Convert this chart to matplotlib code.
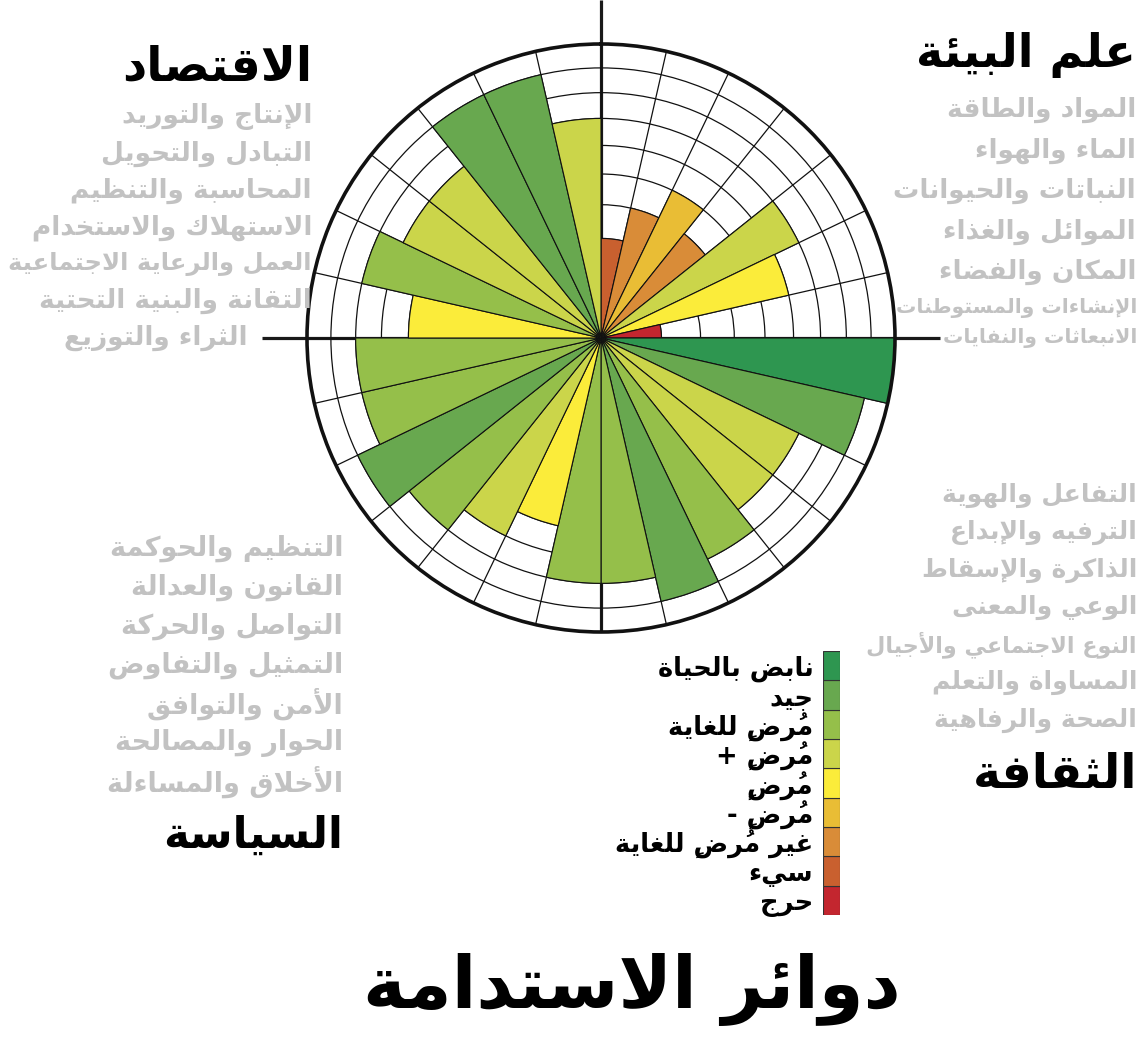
import numpy as np
import matplotlib
matplotlib.use("Agg")
import matplotlib.pyplot as plt

plt.rcParams['font.family'] = ['DejaVu Sans']

# --- minimal arabic shaping (presentation forms + visual order) ---
LETTERS = "ءآأؤإئابةتثجحخدذرزسشصضطظعغفقكلمنهوىي"
COUNTS = [1, 2, 2, 2, 2, 4, 2, 4, 2, 4, 4, 4, 4, 4, 2, 2, 2, 2,
          4, 4, 4, 4, 4, 4, 4, 4, 4, 4, 4, 4, 4, 4, 4, 2, 2, 4]
FORMS = {}
start = 0xFE80
for ch, n in zip(LETTERS, COUNTS):
    FORMS[ch] = (start, n)
    start += n
LAM_ALEF = {"آ": 0xFEF5, "أ": 0xFEF7, "إ": 0xFEF9, "ا": 0xFEFB}
MARKS = set(chr(c) for c in range(0x064B, 0x0653))


def shape(text):
    clusters = []
    for ch in text:
        if ch in MARKS and clusters:
            clusters[-1][1] += ch
        else:
            clusters.append([ch, ""])
    out = []
    i = 0
    while i < len(clusters):
        ch, marks = clusters[i]
        prev = clusters[i - 1][0] if i > 0 else None
        nxt = clusters[i + 1][0] if i + 1 < len(clusters) else None
        joins_prev = (prev in FORMS and FORMS[prev][1] == 4
                      and ch in FORMS and FORMS[ch][1] > 1)
        if ch == "ل" and nxt in LAM_ALEF:
            out.append(marks + clusters[i + 1][1] + chr(LAM_ALEF[nxt] + int(joins_prev)))
            i += 2
            continue
        if ch in FORMS:
            base, n = FORMS[ch]
            joins_next = n == 4 and nxt in FORMS and FORMS[nxt][1] > 1
            if n == 1:
                form = 0
            elif n == 2:
                form = 1 if joins_prev else 0
            else:
                form = [[0, 2], [1, 3]][int(joins_prev)][int(joins_next)]
            ch = chr(base + form)
        # marks go before their letter in visual order (the font draws them to the right of the pen)
        out.append(marks + ch)
        i += 1
    return "".join(reversed(out))


# --- data ---
level_names = ["حرج", "سيء", "غير مُرضٍ للغاية", "مُرضٍ -", "مُرضٍ",
               "مُرضٍ +", "مُرضٍ للغاية", "جيد", "نابض بالحياة"]
level_colors = ["#c3262f", "#c9602f", "#d98c38", "#e9bd35", "#fbec3a",
                "#cbd54a", "#95bf4a", "#68a84f", "#2e9650"]

# clockwise from 12 o'clock
ecology = [2, 3, 4, 3, 6, 5, 1]
culture = [9, 8, 6, 6, 7, 8, 7]
politics = [7, 5, 6, 7, 8, 7, 7]
economics = [5, 7, 6, 6, 8, 8, 6]

ecology_labels = ["المواد والطاقة", "الماء والهواء", "النباتات والحيوانات",
                  "الموائل والغذاء", "المكان والفضاء",
                  "الإنشاءات والمستوطنات", "الانبعاثات والنفايات"]
culture_labels = ["التفاعل والهوية", "الترفيه والإبداع", "الذاكرة والإسقاط",
                  "الوعي والمعنى", "النوع الاجتماعي والأجيال",
                  "المساواة والتعلم", "الصحة والرفاهية"]
politics_labels = ["التنظيم والحوكمة", "القانون والعدالة", "التواصل والحركة",
                   "التمثيل والتفاوض", "الأمن والتوافق", "الحوار والمصالحة",
                   "الأخلاق والمساءلة"]
economics_labels = ["الإنتاج والتوريد", "التبادل والتحويل", "المحاسبة والتنظيم",
                    "الاستهلاك والاستخدام", "العمل والرعاية الاجتماعية",
                    "التقانة والبنية التحتية", "الثراء والتوزيع"]

title = "دوائر الاستدامة"

# --- figure ---
W, H = 1144, 1037
fig = plt.figure(figsize=(W / 100, H / 100), dpi=100)

bg = fig.add_axes([0, 0, 1, 1])
bg.set_xlim(0, W)
bg.set_ylim(H, 0)
bg.axis('off')

cx, cy, R = 601, 338, 294
bg.plot([cx, cx], [0, cy + R], color='#1a1a1a', lw=2.3, solid_capstyle='butt')
bg.plot([262, 940], [cy, cy], color='#1a1a1a', lw=2.3, solid_capstyle='butt')

ax = fig.add_axes([(cx - R) / W, (H - cy - R) / H, 2 * R / W, 2 * R / H],
                  projection='polar')
ax.set_facecolor('none')
ax.set_theta_zero_location('N')
ax.set_theta_direction(-1)

# rings get narrower outward in the original
p = 0.72
ax.set_rscale('function', functions=(lambda r: np.sign(r) * np.abs(r) ** p,
                                     lambda s: np.sign(s) * np.abs(s) ** (1 / p)))
ax.set_ylim(0, 9)

values = ecology + culture + politics + economics
n = len(values)
width = 2 * np.pi / n
theta = np.arange(n) * width
ax.bar(theta, values, width=width, bottom=0, align='edge',
       color=[level_colors[v - 1] for v in values],
       edgecolor='#111111', linewidth=0.8, zorder=2)

ax.set_xticks(theta)
ax.set_yticks(range(1, 9))
ax.set_xticklabels([])
ax.set_yticklabels([])
ax.tick_params(length=0)
ax.grid(True, color='#111111', lw=0.9)
ax.set_axisbelow(True)
ax.spines['polar'].set_linewidth(2.6)
ax.spines['polar'].set_color('#111111')

# --- texts ---
gray = '#c2c2c2'


def put(x, y, s, **kw):
    fig.text(x / W, 1 - y / H, shape(s), ha='right', va='center', **kw)


put(312, 68, "الاقتصاد", fontsize=34, fontweight='bold', color='black')
for k, s in enumerate(economics_labels):
    put(312 if k < 6 else 248, 117 + k * 36.8, s, fontsize=17.5 if k == 4 else 19,
        fontweight='bold', color=gray)

put(1136, 55, "علم البيئة", fontsize=33, fontweight='bold', color='black')
for k, s in enumerate(ecology_labels[:5]):
    put(1136, 110 + k * 40.5, s, fontsize=19, fontweight='bold', color=gray)
for k, s in enumerate(ecology_labels[5:]):
    put(1137, 308 + k * 30, s, fontsize=14.6, fontweight='bold', color=gray)

for k, s in enumerate(culture_labels):
    put(1137, 495 + k * 37.5, s, fontsize=16 if k == 4 else 18, fontweight='bold', color=gray)
put(1137, 775, "الثقافة", fontsize=34, fontweight='bold', color='black')

for k, s in enumerate(politics_labels):
    put(343, 548 + k * 39, s, fontsize=19.5, fontweight='bold', color=gray)
put(343, 835, "السياسة", fontsize=31.5, fontweight='bold', color='black')

fig.text(632 / W, 1 - 990 / H, shape(title), ha='center', va='center',
         fontsize=52, fontweight='bold', color='black')

# --- legend ---
lg = fig.add_axes([823 / W, (H - 915) / H, 17 / W, 264 / H])
lg.barh(range(9), 1, height=1, color=level_colors, edgecolor='#333333', linewidth=0.8)
lg.set_ylim(-0.5, 8.5)
lg.set_xlim(0, 1)
lg.set_xticks([])
lg.set_yticks(range(9))
lg.set_yticklabels([shape(s) for s in level_names], fontsize=18.5, fontweight='bold')
lg.tick_params(axis='y', length=0, pad=7)
for sp in lg.spines.values():
    sp.set_visible(False)

fig.savefig("out.png", dpi=100, facecolor='white')
